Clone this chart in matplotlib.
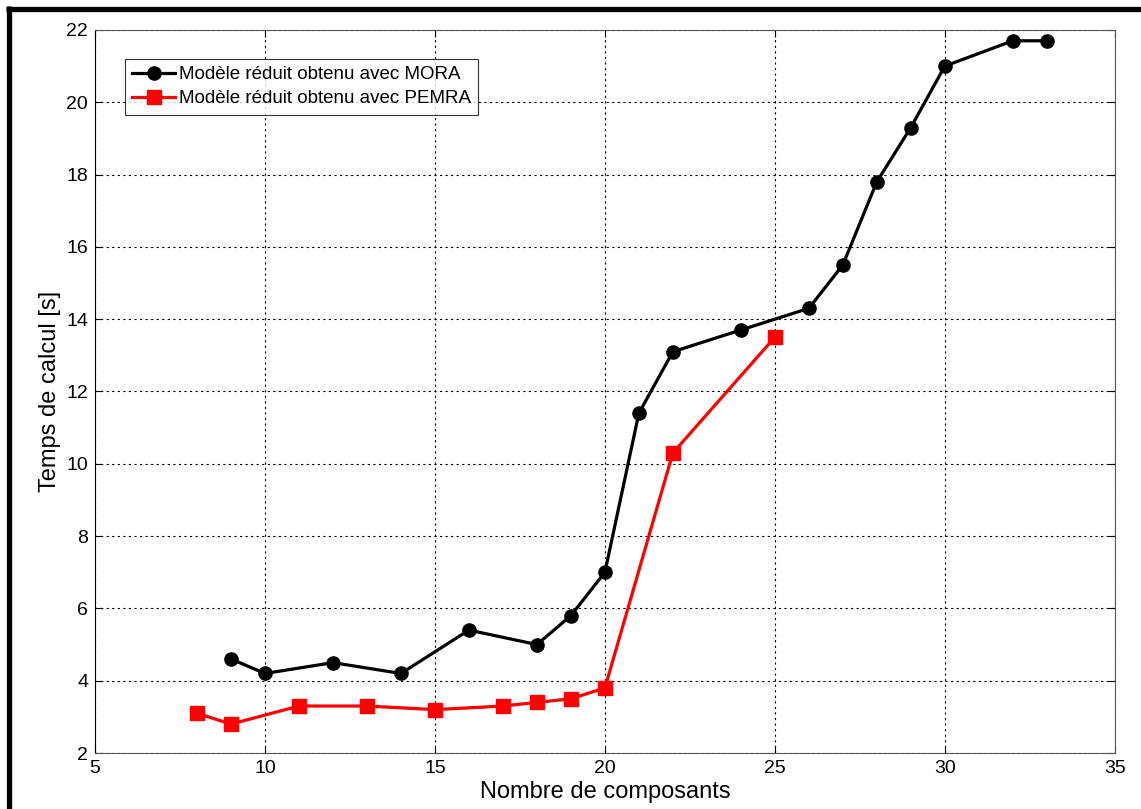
import matplotlib.pyplot as plt
from matplotlib.lines import Line2D

plt.rcParams['font.family'] = ['Liberation Sans', 'DejaVu Sans']

# data
mora_n = [9, 10, 12, 14, 16, 18, 19, 20, 21, 22, 24, 26, 27, 28, 29, 30, 32, 33]
mora_t = [4.6, 4.2, 4.5, 4.2, 5.4, 5.0, 5.8, 7.0, 11.4, 13.1, 13.7, 14.3,
          15.5, 17.8, 19.3, 21.0, 21.7, 21.7]
pemra_n = [8, 9, 11, 13, 15, 17, 18, 19, 20, 22, 25]
pemra_t = [3.1, 2.8, 3.3, 3.3, 3.2, 3.3, 3.4, 3.5, 3.8, 10.3, 13.5]

xticks = [5, 10, 15, 20, 25, 30, 35]
yticks = [2, 4, 6, 8, 10, 12, 14, 16, 18, 20, 22]

fig = plt.figure(figsize=(11.41, 8.09), dpi=100)
ax = fig.add_axes([0.0833, 0.0692, 0.8937, 0.8938])

ax.plot(mora_n, mora_t, '-o', color='black', lw=2.3, ms=9.5,
        label='Modèle réduit obtenu avec MORA')
ax.plot(pemra_n, pemra_t, '-s', color='red', lw=2.3, ms=9.5,
        label='Modèle réduit obtenu avec PEMRA')

ax.set_xlim(5, 35)
ax.set_ylim(2, 22)
ax.set_xticks(xticks)
ax.set_yticks(yticks)
ax.grid(True, color='black', linestyle=(0, (2, 3)), linewidth=0.8)
ax.tick_params(direction='in', top=True, right=True, labelsize=14, length=5,
               pad=5)
for s in ax.spines.values():
    s.set_color('#555555')
ax.spines['left'].set_color('black')

ax.set_xlabel('Nombre de composants', fontsize=17, labelpad=3)
ax.set_ylabel('Temps de calcul [s]', fontsize=17, labelpad=4)

leg = ax.legend(loc='upper left', bbox_to_anchor=(0.029, 0.96), fontsize=13.5,
                frameon=True, fancybox=False, edgecolor='black',
                handlelength=2.3, borderpad=0.4, labelspacing=0.35,
                handletextpad=0.2, borderaxespad=0)
leg.get_frame().set_linewidth(0.8)

# black frame on top and left of the screenshot
fig.add_artist(Line2D([6 / 1141, 1], [1 - 8.5 / 809, 1 - 8.5 / 809],
                      transform=fig.transFigure, color='black', lw=3.8,
                      solid_capstyle='butt'))
fig.add_artist(Line2D([8.5 / 1141, 8.5 / 1141], [0, 1 - 6 / 809],
                      transform=fig.transFigure, color='black', lw=3.8,
                      solid_capstyle='butt'))

fig.savefig('out.png', dpi=100)
